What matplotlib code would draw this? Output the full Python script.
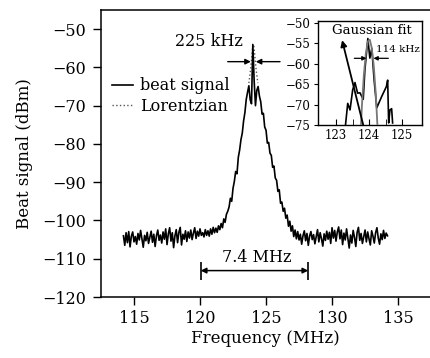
import numpy as np
import matplotlib
matplotlib.use("Agg")
import matplotlib.pyplot as plt

plt.rcParams['font.family'] = ['DejaVu Serif']

# spectrum analyser trace, 0.1 MHz steps starting at 114.2 MHz
f_start = 114.2
f_step = 0.1
beat_dbm = [
    -104.0, -106.5, -103.2, -105.8, -102.9, -106.9, -104.1, -103.0, -105.6, -104.2,
    -106.2, -103.4, -105.1, -102.6, -104.8, -107.0, -103.9, -105.3, -103.1, -106.0,
    -104.4, -102.8, -105.7, -103.6, -106.8, -104.0, -102.5, -105.2, -103.8, -105.9,
    -103.0, -104.9, -102.2, -106.3, -103.5, -101.9, -105.4, -103.2, -107.1, -104.0,
    -102.4, -105.8, -103.1, -101.8, -106.4, -103.6, -104.9, -102.7, -105.5, -103.0,
    -104.6, -102.5, -105.0, -103.3, -101.9, -104.7, -102.8, -104.1, -102.2, -103.9,
    -103.2, -104.3, -102.4, -103.9, -102.7, -104.1, -102.2, -103.6, -101.8, -103.2,
    -102.0, -103.1, -101.4, -102.4, -100.8, -101.9, -99.6, -100.5, -98.4, -97.6,
    -96.5, -94.2, -95.0, -91.6, -89.8, -87.2, -87.8, -83.5, -81.6, -78.9,
    -77.2, -74.0, -71.8, -68.4, -66.5, -64.8, -68.5, -69.5, -54.0, -63.5,
    -70.0, -66.0, -65.0, -67.5, -69.0, -72.2, -72.0, -75.6, -76.4, -79.8,
    -79.6, -82.4, -83.0, -86.1, -85.8, -88.9, -89.5, -92.4, -92.0, -95.5,
    -95.2, -97.6, -96.8, -99.4, -98.6, -101.5, -100.2, -102.8, -101.4, -104.2,
    -102.5, -104.8, -102.9, -105.1, -103.6, -106.2, -104.0, -102.7, -105.3, -103.4,
    -106.5, -104.1, -102.9, -105.0, -103.7, -106.1, -104.3, -102.4, -105.6, -103.2,
    -104.8, -106.7, -103.5, -105.2, -102.8, -104.9, -103.1, -106.0, -101.9, -104.6,
    -102.6, -105.4, -103.0, -101.7, -104.8, -102.5, -106.3, -103.3, -105.1, -102.2,
    -104.7, -107.2, -103.8, -105.9, -102.6, -104.4, -106.8, -103.1, -101.8, -105.2,
    -103.4, -106.0, -104.2, -102.5, -105.6, -103.0, -104.8, -106.4, -102.7, -104.1,
    -105.9, -103.2, -101.9, -104.6, -106.2, -103.5, -105.0, -102.6, -104.7, -103.3,
    -104.0,
]
freq = f_start + f_step * np.arange(len(beat_dbm))

# lorentzian fit near the top
lor_f = [123.70, 123.80, 123.85, 123.90, 123.95, 124.00, 124.04, 124.08, 124.13, 124.18, 124.23, 124.28, 124.38]
lor_dbm = [-64.1, -61.4, -59.9, -58.1, -56.1, -54.5, -54.0, -54.5, -56.1, -58.1, -59.9, -61.4, -64.1]

# inset: zoomed trace and gaussian fit
ins_f = [123.27, 123.35, 123.42, 123.50, 123.57, 123.65, 123.72, 123.82, 123.87, 123.96, 124.02, 124.08,
         124.15, 124.23, 124.31, 124.38, 124.45, 124.52, 124.56, 124.59, 124.63, 124.68, 124.71]
ins_dbm = [-76.0, -69.7, -71.3, -66.4, -64.6, -67.2, -67.1, -68.7, -61.5, -53.8, -58.6, -56.2,
           -64.0, -70.8, -69.3, -68.0, -66.8, -65.6, -64.0, -74.5, -71.3, -71.0, -74.5]
gau_f = [123.72, 123.78, 123.84, 123.90, 123.96, 124.02, 124.08, 124.14, 124.20, 124.26]
gau_dbm = [-80.3, -70.3, -62.6, -57.4, -54.5, -54.1, -56.2, -60.6, -67.4, -76.7]

fig = plt.figure(figsize=(4.3, 3.58), dpi=100)
ax = fig.add_axes([101/430, 61/358, 329/430, 287/358])

ax.plot(lor_f, lor_dbm, color='#555555', ls=':', lw=1.0, label='Lorentzian', zorder=2)
ax.plot(freq, beat_dbm, color='black', lw=1.2, label='beat signal', zorder=3)

ax.set_xlim(112.5, 137.42)
ax.set_ylim(-120, -45)
ax.set_xticks([115, 120, 125, 130, 135])
ax.set_yticks(np.arange(-120, -49, 10))
ax.tick_params(direction='out', length=5.5, width=1, labelsize=11.5)
ax.tick_params(axis='y', pad=5)
ax.tick_params(axis='x', pad=4)
for s in ax.spines.values():
    s.set_linewidth(1.1)
ax.spines['right'].set_visible(False)
ax.set_xlabel('Frequency (MHz)', fontsize=12, labelpad=2)
ax.set_ylabel('Beat signal (dBm)', fontsize=12, labelpad=7)

handles, labels = ax.get_legend_handles_labels()
ax.legend(handles[::-1], labels[::-1], loc='upper left', bbox_to_anchor=(0.033, 0.765),
          frameon=False, fontsize=11.5, handlelength=1.3, handletextpad=0.45,
          labelspacing=0.2, borderpad=0, borderaxespad=0)

arr = dict(arrowstyle='-|>', color='black', lw=1.0, mutation_scale=8, shrinkA=0, shrinkB=0)
ax.annotate('', xy=(123.85, -58.5), xytext=(122.1, -58.5), arrowprops=arr)
ax.annotate('', xy=(124.22, -58.5), xytext=(126.06, -58.5), arrowprops=arr)
ax.text(120.68, -53.3, '225 kHz', ha='center', va='center', fontsize=11.5)

ax.annotate('', xy=(120.05, -113.1), xytext=(128.2, -113.1),
            arrowprops=dict(arrowstyle='<|-|>', color='black', lw=1.1, mutation_scale=8, shrinkA=0, shrinkB=0))
ax.vlines([120.05, 128.2], -115.5, -110.8, color='black', lw=1.2)
ax.text(124.3, -109.8, '7.4 MHz', ha='center', va='center', fontsize=11.5)

# inset
axins = fig.add_axes([318/430, 233/358, 104/430, 104/358])
axins.plot(ins_f, ins_dbm, color='black', lw=1.2, zorder=2)
axins.plot(gau_f, gau_dbm, color='#777777', lw=1.3, zorder=3)
axins.annotate('', xy=(123.18, -54.2), xytext=(123.82, -75.0),
               arrowprops=dict(arrowstyle='-|>', color='black', lw=1.3, mutation_scale=9, shrinkA=0, shrinkB=0))
arr2 = dict(arrowstyle='-|>', color='black', lw=0.9, mutation_scale=6, shrinkA=0, shrinkB=0)
axins.annotate('', xy=(123.92, -58.65), xytext=(123.55, -58.65), arrowprops=arr2)
axins.annotate('', xy=(124.13, -58.65), xytext=(124.58, -58.65), arrowprops=arr2)
axins.text(124.2, -56.6, '114 kHz', ha='left', va='center', fontsize=7.5)
axins.text(124.07, -51.8, 'Gaussian fit', ha='center', va='center', fontsize=9.5)
axins.set_xlim(122.45, 125.6)
axins.set_ylim(-75, -49.5)
axins.set_xticks([123, 124, 125])
axins.set_xticks([123.5, 124.5], minor=True)
axins.set_yticks(np.arange(-75, -49, 5))
axins.tick_params(axis='x', which='both', direction='in', length=4, labelsize=8.5, pad=3)
axins.tick_params(axis='y', direction='out', length=3, labelsize=8.5, pad=2)
for s in axins.spines.values():
    s.set_linewidth(1.0)

fig.savefig('out.png', dpi=100)
